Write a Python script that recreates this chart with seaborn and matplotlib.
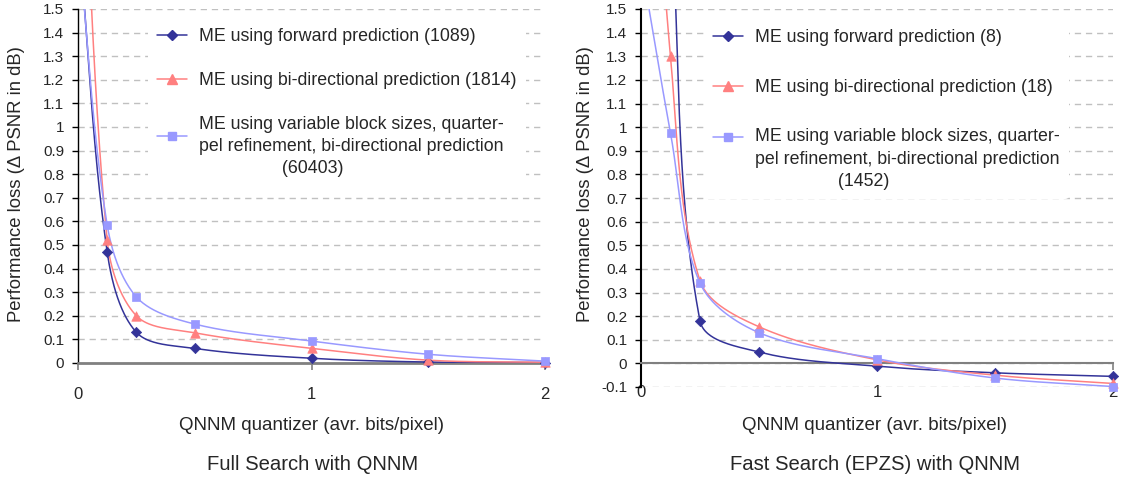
import numpy as np
import matplotlib
matplotlib.use("Agg")
import matplotlib.pyplot as plt
import seaborn as sns
from matplotlib.lines import Line2D
from matplotlib.legend_handler import HandlerLine2D

# ---------------- data ----------------
bits = [0, 0.125, 0.25, 0.5, 1, 1.5, 2]

full_forward = [1.85, 0.47, 0.13, 0.062, 0.02, 0.004, 0.002]
full_bidir = [2.8, 0.52, 0.20, 0.128, 0.062, 0.012, 0.003]
full_varblock = [1.8, 0.585, 0.28, 0.165, 0.093, 0.037, 0.008]

fast_forward = [4.0, 2.0, 0.18, 0.048, -0.012, -0.04, -0.055]
fast_bidir = [3.1, 1.30, 0.35, 0.155, 0.015, -0.05, -0.085]
fast_varblock = [1.7, 0.975, 0.34, 0.13, 0.02, -0.062, -0.098]

full_labels = ["ME using forward prediction (1089)",
               "ME using bi-directional prediction (1814)",
               "ME using variable block sizes, quarter-\npel refinement, bi-directional prediction\n" + " " * 17 + "(60403)"]
fast_labels = ["ME using forward prediction (8)",
               "ME using bi-directional prediction (18)",
               "ME using variable block sizes, quarter-\npel refinement, bi-directional prediction\n" + " " * 17 + "(1452)"]

xlabel = "QNNM quantizer (avr. bits/pixel)"
ylabel = "Performance loss (\u0394 PSNR in dB)"
titles = ["Full Search with QNNM", "Fast Search (EPZS) with QNNM"]

colors = ["#333399", "#FF8080", "#9999FF"]
markers = ["D", "^", "s"]
msizes = [5.0, 6.5, 5.5]

# ---------------- style ----------------
sns.set_theme(style="white")
plt.rcParams["font.family"] = ["Liberation Sans", "DejaVu Sans"]

W, H = 1125, 482
fig = plt.figure(figsize=(W / 100, H / 100), dpi=100)


def px_axes(x0, y0, x1, y1):
    return fig.add_axes([x0 / W, 1 - y1 / H, (x1 - x0) / W, (y1 - y0) / H])


def smooth(xs, ys, n=60):
    """Chord-length scaled cubic Bezier smoothing (spreadsheet-style smoothed line)."""
    P = np.column_stack([xs, ys]).astype(float)
    ext = np.vstack([P[0], P, P[-1]])
    out = []
    t = np.linspace(0, 1, n)[:, None]
    for i in range(len(P) - 1):
        p0, p1, p2, p3 = ext[i], ext[i + 1], ext[i + 2], ext[i + 3]
        d01 = np.hypot(*(p1 - p0))
        d12 = np.hypot(*(p2 - p1))
        d23 = np.hypot(*(p3 - p2))
        c1 = p1 + (p2 - p0) * d12 / (3 * (d01 + d12))
        c2 = p2 - (p3 - p1) * d12 / (3 * (d12 + d23))
        seg = (1 - t) ** 3 * p1 + 3 * (1 - t) ** 2 * t * c1 + 3 * (1 - t) * t ** 2 * c2 + t ** 3 * p2
        out.append(seg if i == 0 else seg[1:])
    return np.vstack(out)


class ShiftHandler(HandlerLine2D):
    def __init__(self, dy, **kw):
        super().__init__(**kw)
        self.dy = dy

    def create_artists(self, legend, orig_handle, xdescent, ydescent, width, height, fontsize, trans):
        arts = super().create_artists(legend, orig_handle, xdescent, ydescent, width, height, fontsize, trans)
        for a in arts:
            a.set_ydata(np.asarray(a.get_ydata(), dtype=float) + self.dy)
        return arts


def draw_panel(ax, series, labels, ymin, xaxis_lw, yaxis_lw, leg_anchor, labelspacing, shift, xpad):
    ymax = 1.5
    for ys, c, m, ms in zip(series, colors, markers, msizes):
        curve = smooth(bits, ys)
        sns.lineplot(x=curve[:, 0], y=curve[:, 1], sort=False, estimator=None,
                     color=c, lw=1.1, ax=ax, zorder=3)
        xs = np.array(bits)
        yv = np.array(ys)
        mask = (yv <= ymax) & (yv >= ymin)
        sns.scatterplot(x=xs[mask], y=yv[mask], marker=m, s=ms ** 2 * 1.1, color=c,
                        edgecolor=c, linewidth=0.5, ax=ax, zorder=4, clip_on=False)
    ax.set_xlim(0, 2)
    ax.set_ylim(ymin, ymax)
    yt = np.round(np.arange(ymin, ymax + 1e-9, 0.1), 1)
    ax.set_yticks(yt)
    ax.set_yticklabels([f"{v:g}" for v in yt])
    ax.set_xticks([0, 1, 2])
    ax.set_xticklabels(["0", "1", "2"])
    ax.yaxis.grid(True, color="#C0C0C0", lw=1.0, linestyle=(0, (4.5, 3.5)))
    ax.xaxis.grid(False)
    ax.set_axisbelow(True)
    for s in ["top", "right"]:
        ax.spines[s].set_visible(False)
    ax.spines["bottom"].set_position(("data", 0))
    ax.spines["bottom"].set_color("#808080")
    ax.spines["bottom"].set_linewidth(xaxis_lw)
    ax.spines["left"].set_color("black")
    ax.spines["left"].set_linewidth(yaxis_lw)
    ax.tick_params(axis="y", direction="out", length=4, width=1, color="black",
                   labelsize=11, pad=6, left=True)
    ax.tick_params(axis="x", direction="out", length=5, width=1.2, color="#808080",
                   labelsize=12, pad=xpad, bottom=True)
    ax.set_xlabel("")
    ax.set_ylabel("")

    handles = [Line2D([], [], color=c, lw=1.1, marker=m, markersize=ms, markeredgecolor=c)
               for c, m, ms in zip(colors, markers, msizes)]
    leg = ax.legend(handles, labels, loc="upper left", bbox_to_anchor=leg_anchor,
                    bbox_transform=fig.transFigure, frameon=True, facecolor="white",
                    edgecolor="none", framealpha=1, fontsize=12.8, handlelength=1.67,
                    handletextpad=0.72, labelspacing=labelspacing, borderpad=0.5,
                    borderaxespad=0, handler_map={handles[2]: ShiftHandler(shift)})
    for t in leg.get_texts():
        t.set_linespacing(1.4)
    leg.set_zorder(2.5)
    return leg


ax1 = px_axes(78, 9, 545, 363)
draw_panel(ax1, [full_forward, full_bidir, full_varblock], full_labels, 0.0,
           2.0, 1.0, (148 / W, 1 - 19.5 / H), 1.5, 8.0, 12)

ax2 = px_axes(641, 9, 1113, 387)
draw_panel(ax2, [fast_forward, fast_bidir, fast_varblock], fast_labels, -0.1,
           1.5, 1.5, (704 / W, 1 - 20.5 / H), 1.83, 16.5, 10.5)

# axis labels and panel captions
fig.text(17 / W, 1 - 184 / H, ylabel, rotation=90, ha="center", va="center", fontsize=13.3)
fig.text(586 / W, 1 - 184 / H, ylabel, rotation=90, ha="center", va="center", fontsize=13.3)
fig.text(311.5 / W, 1 - 425 / H, xlabel, ha="center", va="center", fontsize=13.5)
fig.text(874 / W, 1 - 425 / H, xlabel, ha="center", va="center", fontsize=13.5)
fig.text(312.5 / W, 1 - 465 / H, titles[0], ha="center", va="center", fontsize=14.6)
fig.text(875 / W, 1 - 465 / H, titles[1], ha="center", va="center", fontsize=14.6)

fig.savefig("out.png", dpi=100, facecolor="white")
